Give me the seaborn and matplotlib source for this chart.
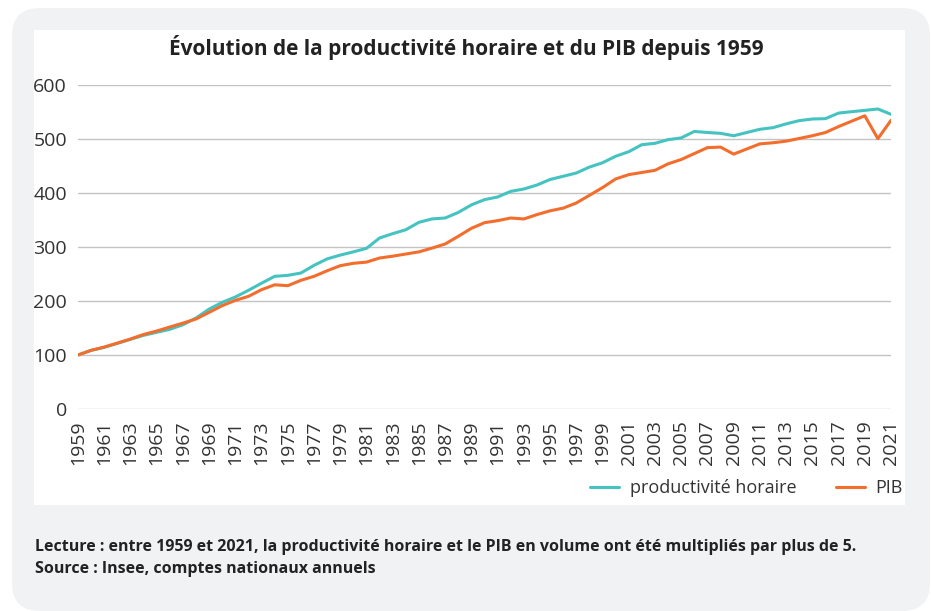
import matplotlib
matplotlib.use("Agg")
import matplotlib.pyplot as plt
from matplotlib.patches import FancyBboxPatch, Rectangle
import numpy as np
import pandas as pd
import seaborn as sns

years = list(range(1959, 2022))
productivite = [100, 108.6, 114, 121.6, 129, 136.4, 142, 147.5, 156, 168.5,
                185, 197.5, 207.4, 219.8, 233, 245.7, 247.5, 251.8, 266, 278,
                285, 291, 297.5, 316.7, 324.7, 332, 345.7, 352, 353.7, 364,
                378, 387.7, 392.6, 403, 407.4, 414.8, 425, 431, 437, 448,
                456, 468, 476.5, 489.5, 492, 498.8, 502, 514, 512, 510.5,
                506, 512, 518, 521, 528, 534, 537, 537.7, 548, 550.6,
                553, 555.6, 545.7]
pib = [100, 108.6, 114.8, 122, 129.6, 138, 144.4, 151.8, 159, 166.7,
       179, 191.4, 201.2, 208.6, 221, 230, 228.4, 238.3, 245.7, 256,
       265.4, 269.8, 272, 279.6, 283, 287, 291, 298, 305.6, 319.8,
       334.6, 345, 348.8, 353.7, 351.9, 360, 367, 372, 381.5, 395.7,
       410, 426, 434, 438, 442, 454, 462, 473, 484, 485,
       472, 481.5, 491, 493, 496, 501, 506, 512, 523, 533,
       543, 500.6, 534.6]
series_names = ["productivité horaire", "PIB"]
colors = ["#45c3c1", "#f36d2d"]

df = pd.DataFrame({"annee": years, series_names[0]: productivite, series_names[1]: pib})
df = df.melt(id_vars="annee", var_name="serie", value_name="indice")

sns.set_style("white")
plt.rcParams['font.family'] = ['Open Sans', 'DejaVu Sans']

W, H = 931, 611
fig = plt.figure(figsize=(W / 100, H / 100), dpi=100)
fig.patch.set_facecolor("white")

# gray rounded panel + white chart box
fig.patches.append(FancyBboxPatch((12 / W, 0), (W - 13) / W, (H - 8) / H,
                                  boxstyle="round,pad=0,rounding_size=0.03",
                                  transform=fig.transFigure, facecolor="#f1f2f4",
                                  edgecolor="none", zorder=0, mutation_aspect=W / H))
fig.patches.append(Rectangle((34 / W, 1 - 505 / H), (905 - 34) / W, (505 - 30) / H,
                             transform=fig.transFigure, facecolor="white",
                             edgecolor="none", zorder=1))

ax = fig.add_axes([78 / W, 1 - 409 / H, (891 - 78) / W, (409 - 85) / H])
ax.set_facecolor("none")
ax.set_zorder(2)

sns.lineplot(data=df, x="annee", y="indice", hue="serie", palette=colors,
             linewidth=2.2, ax=ax, legend=True)

ax.set_xlim(1959, 2021)
ax.set_ylim(0, 600)
ax.set_yticks(range(0, 601, 100))
ax.set_xticks(years[::2])
ax.set_xticklabels([str(y) for y in years[::2]], rotation=90)
ax.tick_params(axis="both", length=0, labelsize=14, labelcolor="#333333")
ax.tick_params(axis="x", pad=8)
ax.tick_params(axis="y", pad=8)
ax.grid(axis="y", color="#c3c3c3", linewidth=1.0)
ax.grid(axis="x", visible=False)
for s in ax.spines.values():
    s.set_visible(False)
ax.set_xlabel("")
ax.set_ylabel("")

handles, labels = ax.get_legend_handles_labels()
ax.legend(handles, labels, loc="center right", bbox_to_anchor=(903 / W, 1 - 488 / H),
          bbox_transform=fig.transFigure, ncol=2, frameon=False, fontsize=13,
          handlelength=1.6, handletextpad=0.6, columnspacing=2.2,
          borderpad=0, borderaxespad=0, labelcolor="#333333")

fig.text(466 / W, 1 - 48 / H, "Évolution de la productivité horaire et du PIB depuis 1959",
         ha="center", va="center", fontsize=15, fontweight="bold", color="#222222")

fig.text(35 / W, 1 - 547 / H,
         "Lecture : entre 1959 et 2021, la productivité horaire et le PIB en volume ont été multipliés par plus de 5.",
         ha="left", va="center", fontsize=11.5, fontweight="bold", color="#222222")
fig.text(35 / W, 1 - 569 / H, "Source : Insee, comptes nationaux annuels",
         ha="left", va="center", fontsize=11.5, fontweight="bold", color="#222222")

fig.savefig("out.png", dpi=100)
